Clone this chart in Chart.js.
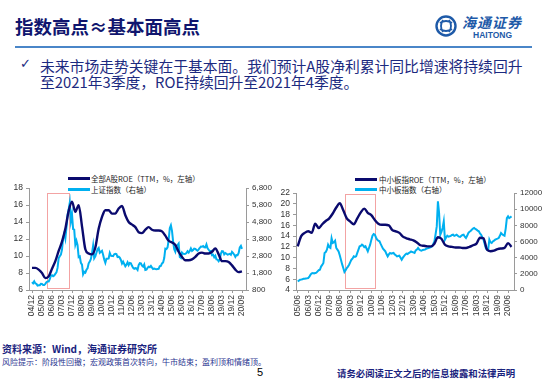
<!DOCTYPE html>
<html><head><meta charset="utf-8">
<script src="https://cdn.jsdelivr.net/npm/chart.js@4.4.1/dist/chart.umd.min.js"></script>
<style>
body{margin:0;width:550px;height:379px;background:#fff;position:relative;overflow:hidden;font-family:"Noto Sans CJK SC","Noto Sans",sans-serif;}
.t{position:absolute;white-space:nowrap;}
.cv{position:absolute;}
.lg{position:absolute;height:3px;width:22px;}
</style></head><body>
<div class="t" style="left:15px;top:17px;font-size:18.5px;line-height:19px;font-weight:bold;color:#10166e;">指数高点≈基本面高点</div>
<svg class="t" style="left:434px;top:14px;" width="24" height="24" viewBox="0 0 24 24">
  <circle cx="12" cy="12" r="9.5" fill="none" stroke="#1e5aa8" stroke-width="2.4"/>
  <path d="M6 9 Q12 5 18 9 M6 15 Q12 19 18 15 M9 6 Q5 12 9 18 M15 6 Q19 12 15 18" fill="none" stroke="#1e5aa8" stroke-width="1.8"/>
</svg>
<div class="t" style="left:462px;top:15px;font-size:14px;line-height:14px;font-style:italic;font-weight:bold;color:#1e5aa8;letter-spacing:1px;">海通证券</div>
<div class="t" style="left:473px;top:31px;font-size:8.5px;line-height:9px;font-weight:bold;color:#1e5aa8;font-family:'Liberation Sans',Arial,sans-serif;">HAITONG</div>
<div class="t" style="left:15px;top:45.5px;width:517px;height:2px;background:#4a86c8;"></div>
<div class="t" style="left:20px;top:57px;font-size:13px;line-height:14px;color:#1c2a80;font-family:'DejaVu Sans',sans-serif;">✓</div>
<div class="t" style="left:40px;top:57.5px;font-size:14.8px;line-height:15px;color:#1c2a80;">未来市场走势关键在于基本面。我们预计A股净利累计同比增速将持续回升</div>
<div class="t" style="left:40px;top:74px;font-size:14.8px;line-height:15px;color:#1c2a80;">至2021年3季度，ROE持续回升至2021年4季度。</div>

<div class="lg" style="left:68px;top:176.5px;background:#0a0a6e;"></div>
<div class="t" style="left:91px;top:173.5px;font-size:7.5px;line-height:9px;color:#222;">全部A股ROE（TTM，%，左轴）</div>
<div class="lg" style="left:68px;top:187.5px;background:#00b0f0;"></div>
<div class="t" style="left:91px;top:184.5px;font-size:7.5px;line-height:9px;color:#222;">上证指数（右轴）</div>

<div class="lg" style="left:355px;top:177.5px;background:#0a0a6e;"></div>
<div class="t" style="left:379px;top:174.5px;font-size:7.5px;line-height:9px;color:#222;">中小板指ROE（TTM，%，左轴）</div>
<div class="lg" style="left:355px;top:187.5px;background:#00b0f0;"></div>
<div class="t" style="left:379px;top:184.5px;font-size:7.5px;line-height:9px;color:#222;">中小板指数（右轴）</div>

<canvas id="cA" class="cv" style="left:0;top:180px;" width="275" height="140"></canvas>
<canvas id="cB" class="cv" style="left:275px;top:180px;" width="275" height="140"></canvas>

<div class="t" style="left:2px;top:342.5px;font-size:10px;line-height:11px;font-weight:bold;color:#1a237e;">资料来源：Wind，海通证券研究所</div>
<div class="t" style="left:2px;top:357px;font-size:8px;line-height:9px;color:#2a3590;">风险提示：阶段性回撤；宏观政策首次转向，牛市结束；盈利顶和情绪顶。</div>
<div class="t" style="left:257px;top:366px;font-size:11px;line-height:12px;color:#000;font-family:'Liberation Sans',Arial,sans-serif;">5</div>
<div class="t" style="left:337px;top:368px;font-size:9.4px;line-height:10px;font-weight:bold;color:#1a237e;">请务必阅读正文之后的信息披露和法律声明</div>

<script>
// ---- Left chart: 全部A股ROE vs 上证指数 (months from 04/12) ----
const tickLabelsA = ['04/12','05/09','06/06','07/03','07/12','08/09','09/06','10/03','10/12','11/09','12/06','13/03','13/12','14/09','15/06','16/03','16/12','17/09','18/06','19/03','19/12','20/09'];
// quarterly ROE (%), every 3 months starting 04/12
const roeA = [8.6,8.6,8.4,8.0,7.4,7.6,8.5,9.4,10.6,11.7,
  13.2,15.3,16.4,15.2,16.0,13.5,10.8,10.3,10.2,11.0,
  13.2,14.6,15.4,15.4,15.0,15.0,15.6,15.9,14.8,14.0,
  13.7,13.4,12.8,12.7,13.1,13.4,13.1,13.0,13.0,12.9,
  12.4,11.8,11.6,11.3,10.5,9.9,9.5,9.5,9.6,9.9,
  10.3,10.4,10.3,10.3,10.5,10.9,10.2,9.4,9.4,9.3,
  8.9,8.4,8.1,8.2];
// monthly 上证指数, starting 04/12
const shIndex = [1266,1191,1306,1181,1159,1060,1080,1083,1162,1155,1093,1099,1161,
  1258,1299,1298,1440,1641,1672,1612,1658,1752,1837,2099,2675,
  2786,2881,3183,3841,4109,3820,4471,5218,5552,5954,4871,5261,
  4383,4348,3472,3693,3433,2736,2775,2397,2293,1728,1871,1820,
  1990,2082,2373,2477,2632,2959,3412,2667,2779,2996,3195,3277,
  2989,3051,3109,2870,2592,2398,2638,2638,2656,2979,2820,2808,
  2790,2905,2928,2911,2743,2762,2701,2567,2359,2468,2333,2199,
  2292,2428,2263,2396,2373,2225,2103,2047,2086,2069,1980,2269,
  2385,2365,2237,2178,2301,1979,1994,2098,2175,2141,2221,2116,
  2033,2056,2033,2026,2039,2048,2202,2217,2364,2420,2683,3234,
  3210,3310,3748,4442,4612,4277,3664,3206,3053,3383,3445,3539,
  2738,2688,3004,2938,2917,2930,2979,3085,3005,3100,3250,3104,
  3159,3242,3223,3155,3117,3192,3273,3361,3349,3393,3317,3307,
  3481,3259,3169,3082,3095,2847,2876,2725,2821,2603,2588,2494,
  2585,2941,3091,3078,2899,2979,2933,2886,2905,2929,2872,3050,
  2977,2880,2750,2860,2852,2985,3310,3396,3218];
const boxA = {x0:13.2, x1:33.3, y0:17.4, y1:6.2};

// ---- Right chart: 中小板指ROE vs 中小板指数 (months from 05/06) ----
const tickLabelsB = ['05/06','06/03','06/12','07/09','08/06','09/03','09/12','10/09','11/06','12/03','12/12','13/09','14/06','15/03','15/12','16/09','17/06','18/03','18/12','19/09','20/06'];
const roeB = [12.1,14.0,14.6,14.9,14.6,16.3,15.5,16.2,16.8,17.3,
  18.2,19.3,20.1,18.8,17.3,16.7,16.2,17.3,18.4,19.1,
  18.3,17.9,17.0,16.3,16.1,16.1,16.0,15.1,14.9,14.6,
  13.9,13.6,13.4,13.2,12.8,12.3,12.2,12.1,12.1,12.6,
  13.8,13.5,12.4,12.1,12.0,11.9,11.9,11.8,11.8,12.0,
  12.3,12.6,13.7,13.6,11.5,11.2,11.3,11.6,11.7,11.8,
  12.7,12.0];
const smeIndex = [1070,1150,1280,1300,1330,1380,1400,1430,1450,1480,1650,1900,
  2050,2100,2050,2100,2150,2300,2450,2500,2900,3100,3340,4580,
  4700,4990,5600,5300,5200,6400,5810,5900,6100,5200,5000,4780,
  4300,3750,3200,2720,2230,2450,2720,2900,3130,3450,3750,3900,
  4160,4100,4160,4600,4990,5400,5450,5610,5500,5300,5400,5100,
  4780,5200,5610,6200,6720,6930,6840,6500,6230,6100,6020,5700,
  5400,5100,4950,4780,4450,4160,4400,4580,4500,4550,4580,4400,
  4300,4160,4200,4250,4000,3750,4000,4200,4370,4500,4450,4580,
  4650,4780,4700,4650,4580,4900,5000,5200,5000,4900,4870,4950,
  4990,5000,5100,5150,5200,5250,5300,5400,5700,6020,6900,7870,
  10970,9520,6840,7200,7670,8490,6230,6500,6720,6600,6640,6700,
  6800,6840,6700,6750,6840,6700,6600,6560,6700,6800,6840,6600,
  6430,6700,7050,7200,7300,7460,7600,7670,7550,7460,7350,7260,
  7000,6840,6500,6230,5700,5200,4990,4990,6230,5900,5810,6000,
  6100,6230,6300,6350,6430,6700,7050,6900,6800,6720,7600,8900,
  9110,8900,9000,9110];
const boxB = {x0:40.4, x1:66, y0:21.9, y1:4.4};

const NAVY = '#0a0a6e', CYAN = '#00b0f0', AXIS = '#9a9a9a';

const boxPlugin = {
  id: 'hlbox',
  beforeDatasetsDraw(chart, args, o) {
    const {ctx, scales} = chart;
    const xa = scales.x.getPixelForValue(o.x0), xb = scales.x.getPixelForValue(o.x1);
    const ya = scales.y.getPixelForValue(o.y0), yb = scales.y.getPixelForValue(o.y1);
    ctx.save();
    ctx.strokeStyle = '#f3a3a3';
    ctx.lineWidth = 1;
    ctx.strokeRect(Math.round(xa)+0.5, Math.round(ya)+0.5, Math.round(xb-xa), Math.round(yb-ya));
    ctx.restore();
  }
};

function makeChart(id, cfg) {
  const tickFont = {family: "'Liberation Sans', Arial, sans-serif", size: 8.5};
  const gridOpt = {drawOnChartArea: false, tickLength: 3, color: AXIS};
  return new Chart(document.getElementById(id), {
    type: 'line',
    data: {datasets: [
      {data: cfg.roe.map((v, i) => ({x: i * 3, y: v})), yAxisID: 'y', borderColor: NAVY, borderWidth: 2.4,
       pointRadius: 0, tension: 0.4, cubicInterpolationMode: 'monotone'},
      {data: cfg.idx.map((v, i) => ({x: i, y: v})), yAxisID: 'y1', borderColor: CYAN, borderWidth: 2,
       pointRadius: 0, tension: 0}
    ]},
    options: {
      responsive: false, animation: false, devicePixelRatio: 1,
      layout: {padding: {top: cfg.padTop, left: 0, right: 0, bottom: 0}},
      plugins: {legend: {display: false}, tooltip: {enabled: false}, hlbox: cfg.box},
      scales: {
        x: {type: 'linear', min: cfg.xmin, max: cfg.xmax,
            afterBuildTicks: s => { s.ticks = cfg.labels.map((_, i) => ({value: i * 9})); },
            ticks: {autoSkip: false, maxRotation: 90, minRotation: 90, padding: 2, color: '#333', font: tickFont,
                    callback: (v, i) => cfg.labels[i]},
            grid: gridOpt, border: {color: AXIS},
            afterFit: s => { s.height = 30; }},
        y: {position: 'left', min: cfg.ymin, max: cfg.ymax,
            ticks: {stepSize: 2, autoSkip: false, padding: 3, color: '#333', font: tickFont},
            grid: gridOpt, border: {color: AXIS},
            afterFit: s => { s.width = cfg.wl; }},
        y1: {position: 'right', min: cfg.rmin, max: cfg.rmax,
            ticks: {stepSize: cfg.rstep, autoSkip: false, padding: 3, color: '#333', font: {family: tickFont.family, size: 8},
                    callback: cfg.rfmt},
            grid: gridOpt, border: {color: AXIS},
            afterFit: s => { s.width = cfg.wr; }}
      }
    },
    plugins: [boxPlugin]
  });
}

makeChart('cA', {roe: roeA, idx: shIndex, labels: tickLabelsA, box: boxA, padTop: 8,
  xmin: -2.7, xmax: 192.6, ymin: 6, ymax: 18, rmin: 800, rmax: 6800, rstep: 1000,
  rfmt: v => v.toLocaleString('en-US'), wl: 29, wr: 29});
makeChart('cB', {roe: roeB, idx: smeIndex, labels: tickLabelsB, box: boxB, padTop: 13,
  xmin: -1.45, xmax: 185.1, ymin: 4, ymax: 22, rmin: 0, rmax: 12000, rstep: 2000,
  rfmt: v => String(v), wl: 21, wr: 36});
</script>
</body></html>
